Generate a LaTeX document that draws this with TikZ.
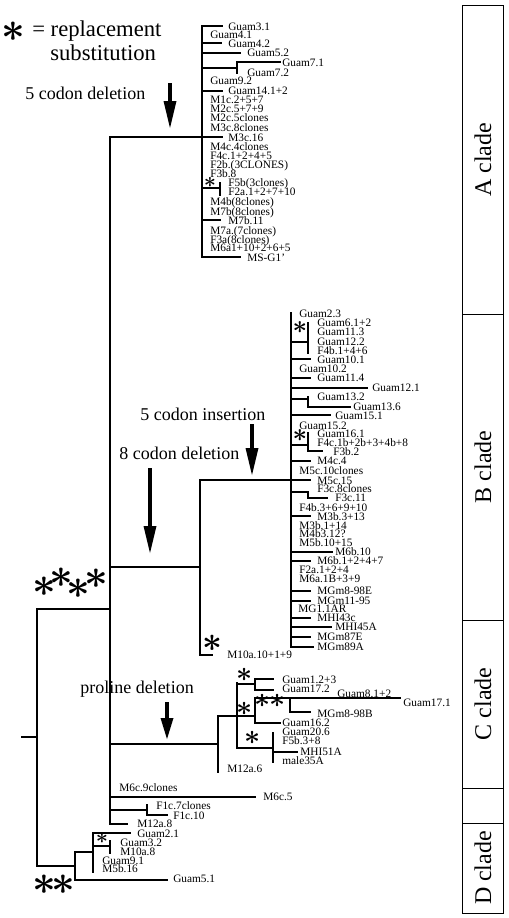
\documentclass[tikz,border=0pt]{standalone}
\usepackage{fontspec}
\setmainfont{Liberation Serif}
\usepackage{graphicx}
\newcommand{\labfont}{\fontsize{8.5}{9}\selectfont}
\newcommand{\astsym}[1]{\scalebox{#1}{\boldmath$\ast$}}
% thick mutation arrow: x, top of shaft, start of head, tip
\newcommand{\mutarrow}[4]{%
  \draw[line width=3.5pt] (#1,#2) -- (#1,#3+1);
  \fill (#1-6.5,#3) -- (#1+6.5,#3) -- (#1,#4) -- cycle;}

\begin{document}
\begin{tikzpicture}[x=0.75pt,y=0.75pt,yscale=-1,xscale=1,
  branch/.style={line width=1.8pt,line cap=rect},
  lab/.style={anchor=west,inner sep=0pt,text height=6pt,text depth=0pt,font=\labfont},
  note/.style={anchor=base west,inner sep=0pt,font=\fontsize{13.5}{14}\selectfont},
  legend/.style={anchor=base west,inner sep=0pt,font=\fontsize{17}{18}\selectfont},
  clade/.style={rotate=90,inner sep=0pt,font=\fontsize{18}{18}\selectfont},
  astk/.style={inner sep=0pt}]
\useasboundingbox (0,0) rectangle (508,918);

% Legend
\node[astk] (s0) at (13,32) {\astsym{3.1}};
\node[legend] (leg1) at (32,36) {= replacement};
\node[legend] (leg2) at (50,60) {substitution};

% Text Node - events
\node[note] (del5) at (25,99) {5 codon deletion};
\node[note] (ins5) at (140,420) {5 codon insertion};
\node[note] (del8) at (119,459) {8 codon deletion};
\node[note] (prodel) at (80,693) {proline deletion};
\mutarrow{170}{83}{101}{128}
\mutarrow{252}{424}{448}{475}
\mutarrow{150}{468}{526}{553}
\mutarrow{167}{702}{718}{739}

%Straight Lines - backbone and root
\draw[branch] (222,137) -- (110,137) -- (110,824) -- (127,824);
\draw[branch] (22,737) -- (37,737);
\draw[branch] (110,609) -- (37,609) -- (37,866) -- (75,866);

%Straight Lines - A clade
\draw[branch] (222,26) -- (202,26) -- (202,257) -- (240,257);
\draw[branch] (202,43) -- (221,43);
\draw[branch] (202,53) -- (240,53);
\draw[branch] (202,68) -- (237,68);
\draw[branch] (237,73) -- (237,62) -- (280,62);
\draw[branch] (202,91) -- (222,91);
\draw[branch] (202,188) -- (220,188);
\draw[branch] (220,183) -- (220,195);
\draw[branch] (202,220) -- (220,220);

%Straight Lines - B clade
\draw[branch] (110,567) -- (200,567);
\draw[branch] (212,655) -- (200,655) -- (200,480) -- (310,480);
\draw[branch] (291,313) -- (291,647) -- (313,647);
\draw[branch] (291,342) -- (308,342);
\draw[branch] (308,323) -- (308,353);
\draw[branch] (291,359) -- (310,359);
\draw[branch] (291,378) -- (310,378);
\draw[branch] (291,388) -- (367,388);
\draw[branch] (291,399) -- (308,399);
\draw[branch] (308,397) -- (308,407) -- (350,407);
\draw[branch] (291,415) -- (330,415);
\draw[branch] (291,445) -- (308,445);
\draw[branch] (308,433) -- (308,451) -- (322,451);
\draw[branch] (291,461) -- (310,461);
\draw[branch] (291,492) -- (308,492) -- (308,498) -- (327,498);
\draw[branch] (291,516) -- (310,516);
\draw[branch] (291,552) -- (332,552);
\draw[branch] (291,561) -- (310,561);
\draw[branch] (291,591) -- (310,591);
\draw[branch] (291,601) -- (310,601);
\draw[branch] (291,618) -- (310,618);
\draw[branch] (291,627) -- (331,627);
\draw[branch] (291,637) -- (310,637);

%Straight Lines - C clade
\draw[branch] (110,744) -- (218,744);
\draw[branch] (218,772) -- (218,716) -- (255,716);
\draw[branch] (237,683) -- (237,748) -- (273,748);
\draw[branch] (237,684) -- (255,684);
\draw[branch] (273,679) -- (255,679) -- (255,690) -- (273,690);
\draw[branch] (290,698) -- (255,698) -- (255,723) -- (280,723);
\draw[branch] (310,712) -- (290,712) -- (290,698) -- (400,698);
\draw[branch] (273,733) -- (273,762);
\draw[branch] (273,752) -- (297,752);

%Straight Lines - rest
\draw[branch] (110,797) -- (255,797);
\draw[branch] (110,810) -- (147,810);
\draw[branch] (147,805) -- (147,815) -- (167,815);

%Straight Lines - D clade
\draw[branch] (93,852) -- (75,852) -- (75,880) -- (167,880);
\draw[branch] (130,833) -- (93,833) -- (93,872);
\draw[branch] (93,846) -- (110,846);
\draw[branch] (110,841) -- (110,853);

% Text Node - A clade
\node[lab] (a1) at (228,26) {Guam3.1};
\node[lab] (a2) at (210,34) {Guam4.1};
\node[lab] (a3) at (228,43) {Guam4.2};
\node[lab] (a4) at (247,52) {Guam5.2};
\node[lab] (a5) at (282,62) {Guam7.1};
\node[lab] (a6) at (247,72) {Guam7.2};
\node[lab] (a7) at (210,80) {Guam9.2};
\node[lab] (a8) at (228,90) {Guam14.1+2};
\node[lab] (a9) at (210,99) {M1c.2+5+7};
\node[lab] (a10) at (210,108) {M2c.5+7+9};
\node[lab] (a11) at (210,117) {M2c.5clones};
\node[lab] (a12) at (210,127) {M3c.8clones};
\node[lab] (a13) at (228,137) {M3c.16};
\node[lab] (a14) at (210,146) {M4c.4clones};
\node[lab] (a15) at (210,155) {F4c.1+2+4+5};
\node[lab] (a16) at (210,164) {F2b.(3CLONES)};
\node[lab] (a17) at (210,173) {F3b.8};
\node[lab] (a18) at (228,182) {F5b(3clones)};
\node[lab] (a19) at (228,191) {F2a.1+2+7+10};
\node[lab] (a20) at (210,201) {M4b(8clones)};
\node[lab] (a21) at (210,211) {M7b(8clones)};
\node[lab] (a22) at (228,220) {M7b.11};
\node[lab] (a23) at (210,230) {M7a.(7clones)};
\node[lab] (a24) at (210,239) {F3a(8clones)};
\node[lab] (a25) at (210,247) {M6a1+10+2+6+5};
\node[lab] (a26) at (247,257) {MS-G1'};

% Text Node - B clade
\node[lab] (b1) at (299,313) {Guam2.3};
\node[lab] (b2) at (317,322) {Guam6.1+2};
\node[lab] (b3) at (317,331) {Guam11.3};
\node[lab] (b4) at (317,341) {Guam12.2};
\node[lab] (b5) at (317,350) {F4b.1+4+6};
\node[lab] (b6) at (317,359) {Guam10.1};
\node[lab] (b7) at (299,368) {Guam10.2};
\node[lab] (b8) at (317,377) {Guam11.4};
\node[lab] (b9) at (372,387) {Guam12.1};
\node[lab] (b10) at (317,396) {Guam13.2};
\node[lab] (b11) at (353,406) {Guam13.6};
\node[lab] (b12) at (335,415) {Guam15.1};
\node[lab] (b13) at (299,425) {Guam15.2};
\node[lab] (b14) at (317,433) {Guam16.1};
\node[lab] (b15) at (317,442) {F4c.1b+2b+3+4b+8};
\node[lab] (b16) at (333,451) {F3b.2};
\node[lab] (b17) at (317,460) {M4c.4};
\node[lab] (b18) at (299,470) {M5c.10clones};
\node[lab] (b19) at (317,480) {M5c.15};
\node[lab] (b20) at (317,488) {F3c.8clones};
\node[lab] (b21) at (335,497) {F3c.11};
\node[lab] (b22) at (299,507) {F4b.3+6+9+10};
\node[lab] (b23) at (317,516) {M3b.3+13};
\node[lab] (b24) at (299,525) {M3b.1+14};
\node[lab] (b25) at (299,533) {M4b3.12?};
\node[lab] (b26) at (299,542) {M5b.10+15};
\node[lab] (b27) at (335,551) {M6b.10};
\node[lab] (b28) at (317,560) {M6b.1+2+4+7};
\node[lab] (b29) at (299,569) {F2a.1+2+4};
\node[lab] (b30) at (299,578) {M6a.1B+3+9};
\node[lab] (b31) at (317,590) {MGm8-98E};
\node[lab] (b32) at (317,600) {MGm11-95};
\node[lab] (b33) at (298,608) {MG1.1AR};
\node[lab] (b34) at (317,617) {MHI43c};
\node[lab] (b35) at (335,626) {MHI45A};
\node[lab] (b36) at (317,636) {MGm87E};
\node[lab] (b37) at (317,646) {MGm89A};
\node[lab] (b38) at (227,654) {M10a.10+1+9};

% Text Node - C clade
\node[lab] (c1) at (282,679) {Guam1.2+3};
\node[lab] (c2) at (282,688) {Guam17.2};
\node[lab] (c3) at (337,693) {Guam8.1+2};
\node[lab] (c4) at (403,702) {Guam17.1};
\node[lab] (c5) at (317,713) {MGm8-98B};
\node[lab] (c6) at (282,722) {Guam16.2};
\node[lab] (c7) at (282,731) {Guam20.6};
\node[lab] (c8) at (282,740) {F5b.3+8};
\node[lab] (c9) at (300,751) {MHI51A};
\node[lab] (c10) at (282,760) {male35A};
\node[lab] (c11) at (227,768) {M12a.6};

% Text Node - other
\node[lab] (o1) at (119,787) {M6c.9clones};
\node[lab] (o2) at (263,796) {M6c.5};
\node[lab] (o3) at (156,805) {F1c.7clones};
\node[lab] (o4) at (173,815) {F1c.10};
\node[lab] (o5) at (137,823) {M12a.8};

% Text Node - D clade
\node[lab] (d1) at (137,833) {Guam2.1};
\node[lab] (d2) at (120,842) {Guam3.2};
\node[lab] (d3) at (120,851) {M10a.8};
\node[lab] (d4) at (102,860) {Guam9.1};
\node[lab] (d5) at (102,868) {M5b.16};
\node[lab] (d6) at (173,878) {Guam5.1};

% asterisks
\node[astk] (s1) at (210,182) {\astsym{1.6}};
\node[astk] (s2) at (300,328) {\astsym{1.9}};
\node[astk] (s3) at (300,436) {\astsym{1.9}};
\node[astk] (s4) at (212,643) {\astsym{2.6}};
\node[astk] (s5) at (245,675) {\astsym{2.1}};
\node[astk] (s6) at (263,701) {\astsym{2.1}};
\node[astk] (s7) at (278,701) {\astsym{2.1}};
\node[astk] (s8) at (245,709) {\astsym{2.1}};
\node[astk] (s9) at (253,738) {\astsym{2.1}};
\node[astk] (s10) at (44,587) {\astsym{3.1}};
\node[astk] (s11) at (61,578) {\astsym{3.1}};
\node[astk] (s12) at (78,589) {\astsym{3.1}};
\node[astk] (s13) at (96,579) {\astsym{3.1}};
\node[astk] (s14) at (102,838) {\astsym{1.6}};
\node[astk] (s15) at (44,885) {\astsym{3.1}};
\node[astk] (s16) at (63,885) {\astsym{3.1}};

% clade bar
\draw[line width=0.75pt] (462,5) rectangle (503,913);
\draw[line width=0.75pt] (462,314) -- (503,314);
\draw[line width=0.75pt] (462,620) -- (503,620);
\draw[line width=0.75pt] (462,788) -- (503,788);
\draw[line width=0.75pt] (462,823) -- (503,823);
\node[clade] (cA) at (483,160) {A clade};
\node[clade] (cB) at (483,467) {B clade};
\node[clade] (cC) at (483,704) {C clade};
\node[clade] (cD) at (483,868) {D clade};

\end{tikzpicture}
\end{document}
